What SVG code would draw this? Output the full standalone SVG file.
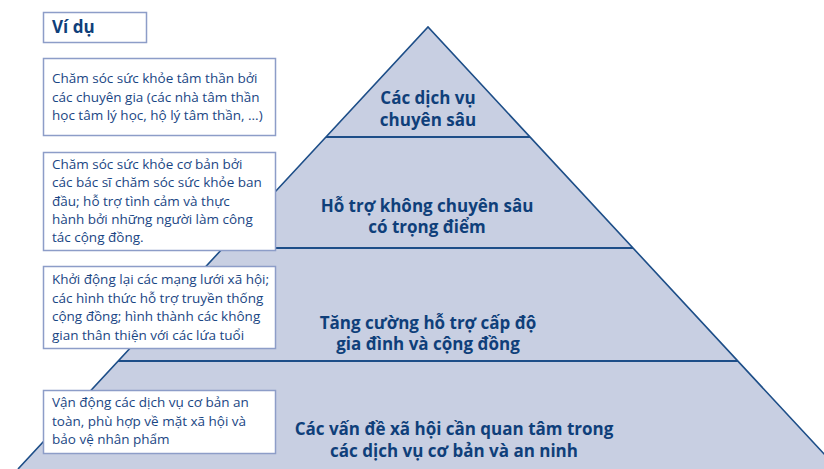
<svg xmlns="http://www.w3.org/2000/svg" width="824" height="469" viewBox="0 0 824 469">
<style>
.tier{fill:#c8cfe2;stroke:none}
.edge{stroke:#1d4e88;stroke-width:1.6;fill:none}
.sep{stroke:#1d4e88;stroke-width:2;fill:none}
.tt{font-family:"Open Sans","Noto Sans",sans-serif;font-weight:bold;font-size:17px;fill:#0f3f7a;text-anchor:middle}
.box{fill:#ffffff;stroke:#8d9dc8;stroke-width:1.5}
.bt{font-family:"Open Sans","Noto Sans",sans-serif;font-size:13.5px;fill:#1a4684}
.hd{font-family:"Open Sans","Noto Sans",sans-serif;font-weight:bold;font-size:17px;fill:#0f3f7a}
</style>
<g id="pyramid">
<polygon class="tier" points="428,27 838,469 18,469"/>
</g>
<g id="connectors">
<polyline class="edge" points="18,469 428,27 838,469"/>
<line class="sep" x1="326" y1="137" x2="530" y2="137"/>
<line class="sep" x1="223" y1="248" x2="633" y2="248"/>
<line class="sep" x1="118" y1="361" x2="738" y2="361"/>
</g>
<g id="tier1">
<text class="tt" x="428" y="104">Các dịch vụ</text>
<text class="tt" x="428" y="126">chuyên sâu</text>
</g>
<g id="tier2">
<text class="tt" x="427" y="212">Hỗ trợ không chuyên sâu</text>
<text class="tt" x="427" y="233">có trọng điểm</text>
</g>
<g id="tier3">
<text class="tt" x="428" y="329">Tăng cường hỗ trợ cấp độ</text>
<text class="tt" x="428" y="350">gia đình và cộng đồng</text>
</g>
<g id="tier4">
<text class="tt" x="454" y="435">Các vấn đề xã hội cần quan tâm trong</text>
<text class="tt" x="454" y="457">các dịch vụ cơ bản và an ninh</text>
</g>
<g id="heading">
<rect class="box" x="43.5" y="12.5" width="103" height="30"/>
<text class="hd" x="52" y="33">Ví dụ</text>
</g>
<g id="example1">
<rect class="box" x="43.5" y="58.5" width="232" height="77"/>
<text class="bt" x="52" y="83">Chăm sóc sức khỏe tâm thần bởi</text>
<text class="bt" x="52" y="101.5">các chuyên gia (các nhà tâm thần</text>
<text class="bt" x="52" y="120">học tâm lý học, hộ lý tâm thần, ...)</text>
</g>
<g id="example2">
<rect class="box" x="43.5" y="152.5" width="232" height="98"/>
<text class="bt" x="52" y="169">Chăm sóc sức khỏe cơ bản bởi</text>
<text class="bt" x="52" y="187.3">các bác sĩ chăm sóc sức khỏe ban</text>
<text class="bt" x="52" y="205.6">đầu; hỗ trợ tình cảm và thực</text>
<text class="bt" x="52" y="223.9">hành bởi những người làm công</text>
<text class="bt" x="52" y="242.2">tác cộng đồng.</text>
</g>
<g id="example3">
<rect class="box" x="43.5" y="266.5" width="232" height="82"/>
<text class="bt" x="52" y="284">Khởi động lại các mạng lưới xã hội;</text>
<text class="bt" x="52" y="302.5">các hình thức hỗ trợ truyền thống</text>
<text class="bt" x="52" y="321">cộng đồng; hình thành các không</text>
<text class="bt" x="52" y="339.5">gian thân thiện với các lứa tuổi</text>
</g>
<g id="example4">
<rect class="box" x="43.5" y="390.5" width="232" height="63"/>
<text class="bt" x="52" y="407">Vận động các dịch vụ cơ bản an</text>
<text class="bt" x="52" y="425.5">toàn, phù hợp về mặt xã hội và</text>
<text class="bt" x="52" y="444">bảo vệ nhân phẩm</text>
</g>
</svg>
